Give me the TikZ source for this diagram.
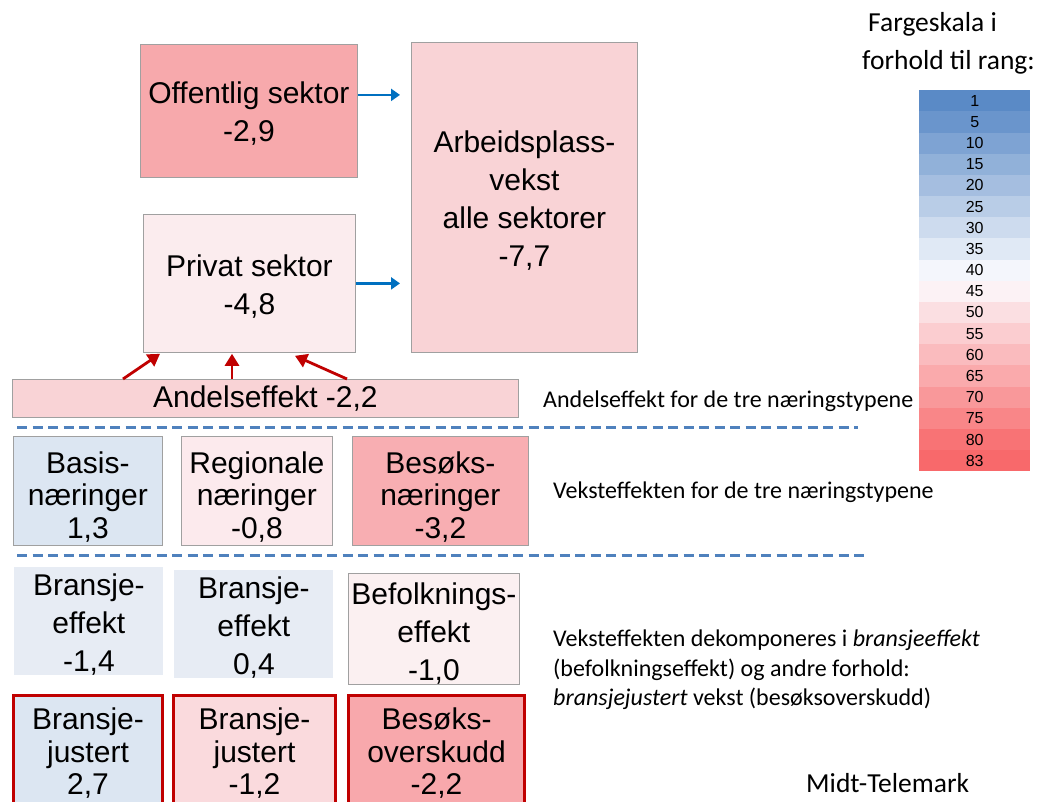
\documentclass[tikz,border=0pt]{standalone}
\usepackage{fontspec}
\setmainfont{Liberation Sans}
\newfontfamily\calibri{Carlito}
\usetikzlibrary{arrows.meta,backgrounds}
\newcommand{\mystrut}[1]{\rule{0pt}{#1pt}}
\definecolor{boxgray}{RGB}{160,160,160}
\definecolor{offc}{RGB}{247,169,172}
\definecolor{arbc}{RGB}{249,211,214}
\definecolor{privc}{RGB}{251,236,238}
\definecolor{basisc}{RGB}{220,230,242}
\definecolor{regc}{RGB}{252,234,237}
\definecolor{besc}{RGB}{248,174,178}
\definecolor{brc}{RGB}{231,236,244}
\definecolor{befc}{RGB}{251,240,241}
\definecolor{bj2c}{RGB}{250,218,221}
\definecolor{bes2c}{RGB}{248,168,172}
\definecolor{redc}{RGB}{192,0,0}
\definecolor{connc}{RGB}{192,80,77}
\definecolor{arrblue}{RGB}{0,112,192}
\definecolor{dashblue}{RGB}{79,129,189}
\definecolor{scblue}{RGB}{90,138,198}
\definecolor{scwhite}{RGB}{252,252,255}
\definecolor{scred}{RGB}{248,105,107}
\begin{document}
\begin{tikzpicture}[x=1pt,y=-1pt,
  box/.style={draw=boxgray,line width=0.8pt,align=center,inner sep=0pt,anchor=north west,
    font=\fontsize{30}{38}\selectfont},
  tight/.style={font=\fontsize{30}{32.5}\selectfont},
  redbox/.style={box,draw=redc,line width=3pt,tight},
  bluearrow/.style={draw=arrblue,line width=2.5pt,-{Triangle[length=9pt,width=12pt]}},
  redarrow/.style={draw=redc,line width=2.8pt,-{Triangle[length=12pt,width=14pt]}},
  conn/.style={draw=connc,line width=4pt},
  dashline/.style={draw=dashblue,line width=3pt,dash pattern=on 10pt off 5.5pt},
  side/.style={font=\calibri\fontsize{24}{29.5}\selectfont,inner sep=0pt,align=left},
  big/.style={font=\calibri\fontsize{27.5}{27.5}\selectfont},
  cell/.style={minimum width=111pt,minimum height=21.17pt,inner sep=0pt,anchor=north west,
    font=\fontsize{16}{16}\selectfont}
]
\useasboundingbox[fill=white] (0,0) rectangle (1041,802);

% top level
\node[box,fill=offc,minimum width=217pt,minimum height=133pt] (off) at (140,44) {\mystrut{28}Offentlig sektor\\-2,9};
\node[box,fill=arbc,minimum width=226pt,minimum height=310pt] (arb) at (411,42) {\mystrut{29}Arbeidsplass-\\vekst\\alle sektorer\\-7,7};
\node[box,fill=privc,minimum width=212pt,minimum height=138pt] (priv) at (143,214) {\mystrut{28}Privat sektor\\-4,8};
\node[box,fill=arbc,minimum width=506pt,minimum height=38pt] (andel) at (12,379) {Andelseffekt -2,2};

% industry types
\node[box,tight,fill=basisc,minimum width=149pt,minimum height=109pt] (basis) at (13,436) {\mystrut{34}Basis-\\næringer\\1,3};
\node[box,tight,fill=regc,minimum width=151pt,minimum height=109pt] (reg) at (181,436) {\mystrut{34}Regionale\\næringer\\-0,8};
\node[box,tight,fill=besc,minimum width=176pt,minimum height=109pt] (bes) at (352,436) {\mystrut{34}Besøks-\\næringer\\-3,2};

% effects
\node[box,draw=none,fill=brc,minimum width=149pt,minimum height=108pt] (br1) at (14,567) {\mystrut{28}Bransje-\\effekt\\-1,4};
\node[box,draw=none,fill=brc,minimum width=159pt,minimum height=108pt] (br2) at (174,570) {\mystrut{28}Bransje-\\effekt\\0,4};
\node[box,fill=befc,minimum width=171pt,minimum height=110pt] (bef) at (348,573) {\mystrut{31}Befolknings-\\effekt\\-1,0};

% bottom
\node[redbox,fill=basisc,minimum width=149pt,minimum height=116pt] (bj1) at (12,694) {Bransje-\\justert\\2,7};
\node[redbox,fill=bj2c,minimum width=162pt,minimum height=116pt] (bj2) at (172,694) {Bransje-\\justert\\-1,2};
\node[redbox,fill=bes2c,minimum width=176pt,minimum height=116pt] (bes2) at (347,694) {Besøks-\\overskudd\\-2,2};

% vertical connectors behind boxes
\coordinate (c1) at (88,0);
\coordinate (c2) at (232,0);
\coordinate (c3) at (403,0);
\begin{scope}[on background layer]
\draw[conn] (andel.south -| c1) -- (bj1.north -| c1);
\draw[conn] (andel.south -| c2) -- (bj2.north -| c2);
\draw[conn] (andel.south -| c3) -- (bes2.north -| c3);
\end{scope}

% dashed separators
\coordinate (d1a) at (17,427);
\coordinate (d1b) at (858,427);
\coordinate (d2a) at (17,555);
\coordinate (d2b) at (865,555);
\draw[dashline] (d1a) -- (d1b);
\draw[dashline] (d2a) -- (d2b);

% arrows
\draw[bluearrow,shorten >=11pt] ([yshift=16pt]off.east) -- ([yshift=16pt]off.east -| arb.west);
\draw[bluearrow,shorten >=11pt] (priv.east) -- (priv.east -| arb.west);
\draw[redarrow] ([xshift=111pt]andel.north west) -- ([xshift=17pt,yshift=-1pt]priv.south west);
\draw[redarrow] ([xshift=220pt]andel.north west) -- ([xshift=89pt,yshift=-1pt]priv.south west);
\draw[redarrow] ([xshift=335pt]andel.north west) -- ([xshift=152pt,yshift=-3pt]priv.south west);

% side texts
\node[side,anchor=west] (t1) at (543,401) {Andelseffekt for de tre næringstypene};
\node[side,anchor=west] (t2) at (553,492) {Veksteffekten for de tre næringstypene};
\node[side,anchor=north west] (t3) at (553,630) {Veksteffekten dekomponeres i \textit{bransjeeffekt}\\(befolkningseffekt) og andre forhold:\\\textit{bransjejustert} vekst (besøksoverskudd)};
\node[side,big,anchor=west] (t4) at (806,783) {Midt-Telemark};
\node[side,big,anchor=west] (f1) at (868,24) {Fargeskala i};
\node[side,big,anchor=west] (f2) at (862,62) {forhold til rang:};

% colour scale
\foreach \v/\c/\p [count=\i from 0] in {1/scblue/100,5/scblue/90,10/scblue/78,15/scblue/66,20/scblue/54,25/scblue/41.5,30/scblue/29,35/scblue/17,40/scblue/5,45/scred/7,50/scred/19.5,55/scred/32,60/scred/44,65/scred/56,70/scred/68,75/scred/80.5,80/scred/93,83/scred/100}{
  \node[cell,fill=\c!\p!scwhite] (cell\i) at (919,{90+\i*21.17}) {\v};
}
\end{tikzpicture}
\end{document}
